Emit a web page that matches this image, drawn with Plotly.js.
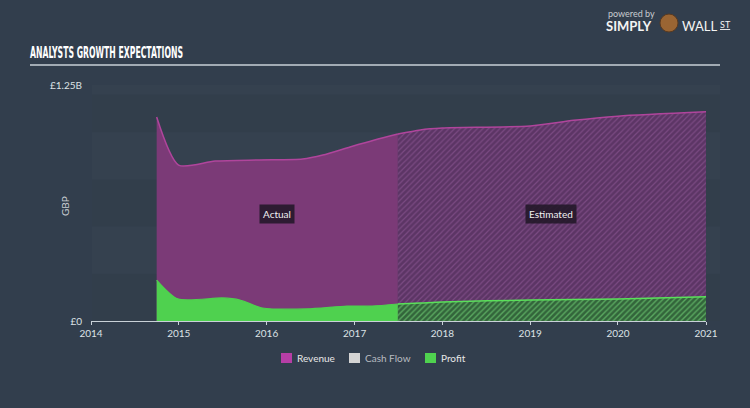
<!DOCTYPE html>
<html>
<head>
<meta charset="utf-8">
<script src="https://cdn.plot.ly/plotly-3.0.1.min.js"></script>
<style>
  html, body { margin: 0; padding: 0; background: #323e4d; }
  #chart { width: 750px; height: 408px; }
</style>
</head>
<body>
<div id="chart"></div>
<script>
// ---- data (GBP) ----
const revenueActualDates = ['2014-10-01','2014-12-31','2015-06-01','2015-12-01','2016-05-30','2016-08-22','2016-12-13','2017-03-25','2017-06-30'];
const revenueActual      = [1.080e9, 0.826e9, 0.847e9, 0.853e9, 0.858e9, 0.879e9, 0.922e9, 0.959e9, 0.990e9];
const profitActualDates  = ['2014-10-01','2014-12-28','2015-07-01','2015-09-12','2015-12-15','2016-06-15','2016-11-30','2017-03-15','2017-06-30'];
const profitActual       = [0.217e9, 0.117e9, 0.122e9, 0.111e9, 0.069e9, 0.064e9, 0.079e9, 0.079e9, 0.090e9];
const estimateDates      = ['2017-06-30','2017-10-01','2018-01-01','2019-01-01','2019-07-01','2020-01-01','2021-01-01'];
const revenueEstimate    = [0.990e9, 1.012e9, 1.022e9, 1.033e9, 1.063e9, 1.085e9, 1.108e9];
const profitEstimate     = [0.090e9, 0.095e9, 0.101e9, 0.111e9, 0.114e9, 0.117e9, 0.128e9];
const xTickVals  = ['2014-01-01','2015-01-01','2016-01-01','2017-01-01','2018-01-01','2019-01-01','2020-01-01','2021-01-01'];
const xTickText  = ['2014','2015','2016','2017','2018','2019','2020','2021'];
const yTickVals  = [0, 1.25e9];
const yTickText  = ['£0', '£1.25B'];
const legendNames = ['Revenue', 'Cash Flow', 'Profit'];

const FONT = 'Lato, "Open Sans", sans-serif';
const revLine = '#b0459c', revFill = '#7b3a77';
const proLine = '#5ae05a', proFill = '#4fd14f';

const traces = [
  { x: revenueActualDates, y: revenueActual, type: 'scatter', mode: 'lines', fill: 'tozeroy',
    line: { color: revLine, width: 1.5, shape: 'spline', smoothing: 0.7 }, fillcolor: revFill, hoverinfo: 'skip' },
  { x: estimateDates, y: revenueEstimate, type: 'scatter', mode: 'lines', fill: 'tozeroy',
    line: { color: revLine, width: 1.5, shape: 'spline', smoothing: 0.7 }, fillcolor: '#5c3565',
    fillpattern: { shape: '/', bgcolor: '#5c3565', fgcolor: '#7a4a82', size: 4, solidity: 0.3 }, hoverinfo: 'skip' },
  { x: profitActualDates, y: profitActual, type: 'scatter', mode: 'lines', fill: 'tozeroy',
    line: { color: proFill, width: 1.2, shape: 'spline', smoothing: 0.7 }, fillcolor: proFill, hoverinfo: 'skip' },
  { x: estimateDates, y: profitEstimate, type: 'scatter', mode: 'lines', fill: 'tozeroy',
    line: { color: proLine, width: 1.5, shape: 'spline', smoothing: 0.7 }, fillcolor: '#33663c',
    fillpattern: { shape: '/', bgcolor: '#33653b', fgcolor: '#5aa860', size: 4, solidity: 0.35 }, hoverinfo: 'skip' }
];

// paper coords helpers: plot area x 91..706, y 321..85
const px = v => (v - 91) / 615;
const py = v => (321 - v) / 236;

const legendColors = ['#b63ea6', '#d4d4d4', '#4fd24f'];
const legendTextColors = ['#e8e8e8', '#b8bcc0', '#e8e8e8'];
const legendSquareX = [281, 349, 425];

const shapes = [
  { type: 'rect', xref: 'paper', yref: 'paper', x0: px(92), x1: px(720), y0: 0, y1: 1, fillcolor: 'rgba(255,255,255,0.015)', line: { width: 0 }, layer: 'below' },
  { type: 'rect', xref: 'paper', yref: 'y', x0: px(92), x1: px(720), y0: 0, y1: 0.25e9, fillcolor: 'rgba(0,0,0,0.04)', line: { width: 0 }, layer: 'below' },
  { type: 'rect', xref: 'paper', yref: 'y', x0: px(92), x1: px(720), y0: 0.5e9, y1: 0.75e9, fillcolor: 'rgba(0,0,0,0.04)', line: { width: 0 }, layer: 'below' },
  { type: 'rect', xref: 'paper', yref: 'y', x0: px(92), x1: px(720), y0: 1.0e9, y1: 1.2e9, fillcolor: 'rgba(0,0,0,0.04)', line: { width: 0 }, layer: 'below' },
  { type: 'line', xref: 'paper', yref: 'paper', x0: px(30), x1: px(720), y0: py(65), y1: py(65), line: { color: '#c9d0d7', width: 1.5 } },
  { type: 'circle', xref: 'paper', yref: 'paper', x0: px(660), x1: px(678), y0: py(32), y1: py(14), fillcolor: '#9a6533', line: { color: '#5a3a20', width: 1 } }
];
legendNames.forEach((n, i) => {
  shapes.push({ type: 'rect', xref: 'paper', yref: 'paper', x0: px(legendSquareX[i]), x1: px(legendSquareX[i] + 11),
    y0: py(363), y1: py(353), fillcolor: legendColors[i], line: { width: 0 } });
});

const ann = (text, x, y, opts) => Object.assign({ text, xref: 'paper', yref: 'paper', x: px(x), y: py(y),
  xanchor: 'left', yanchor: 'middle', showarrow: false }, opts);

const annotations = [
  ann('GBP', 65, 206, { xanchor: 'center', textangle: -90, font: { family: FONT, size: 10, color: '#c8cdd2' } }),
  ann('Actual', 277, 214, { xanchor: 'center', bgcolor: 'rgba(32,22,38,0.85)', borderpad: 3, font: { family: FONT, size: 10, color: '#f0f0f0' } }),
  ann('Estimated', 551, 214, { xanchor: 'center', bgcolor: 'rgba(32,22,38,0.85)', borderpad: 3, font: { family: FONT, size: 10, color: '#f0f0f0' } }),
  ann('powered by', 606, 14, { font: { family: FONT, size: 9, color: '#c8ccd0' } }),
  ann('<b>SIMPLY</b>', 604, 26, { font: { family: FONT, size: 13, color: '#f4f4f4' } }),
  ann('WALL', 680, 26, { font: { family: FONT, size: 13, color: '#f4f4f4' } }),
  ann('<u>ST</u>', 718, 24, { font: { family: FONT, size: 9, color: '#f4f4f4' } })
];
legendNames.forEach((n, i) => {
  annotations.push(ann(n, legendSquareX[i] + 14, 358, { font: { family: FONT, size: 10, color: legendTextColors[i] } }));
});

const layout = {
  width: 750, height: 408,
  paper_bgcolor: '#323e4d', plot_bgcolor: 'rgba(0,0,0,0)',
  margin: { l: 91, r: 44, t: 85, b: 87 },
  showlegend: false,
  font: { family: FONT, color: '#dde2e6' },
  title: { text: '<b>ANALYSTS GROWTH EXPECTATIONS</b>', xref: 'container', yref: 'container',
    x: 30 / 750, xanchor: 'left', y: 1 - 53 / 408, yanchor: 'middle',
    font: { family: '"Liberation Sans Narrow", "DejaVu Sans Condensed", sans-serif', size: 15, color: '#ffffff' } },
  xaxis: {
    type: 'date', range: ['2014-01-01', '2021-01-01'],
    tickvals: xTickVals, ticktext: xTickText,
    showgrid: false, zeroline: false,
    showline: true, linecolor: '#c9d1d8', linewidth: 1,
    ticks: 'outside', ticklen: 3, tickcolor: '#c9d1d8',
    tickfont: { family: FONT, size: 10, color: '#dde2e6' }
  },
  yaxis: {
    range: [0, 1.25e9], tickvals: yTickVals, ticktext: yTickText,
    showgrid: false, zeroline: false, showline: false, ticks: '',
    ticklabelstandoff: 8,
    tickfont: { family: FONT, size: 10, color: '#dde2e6' }
  },
  shapes: shapes,
  annotations: annotations
};

Plotly.newPlot('chart', traces, layout, { displayModeBar: false, staticPlot: true }).then(gd => {
  const t = gd.querySelector('.gtitle');
  if (t) { t.setAttribute('textLength', '153'); t.setAttribute('lengthAdjust', 'spacingAndGlyphs'); }
});
</script>
</body>
</html>
